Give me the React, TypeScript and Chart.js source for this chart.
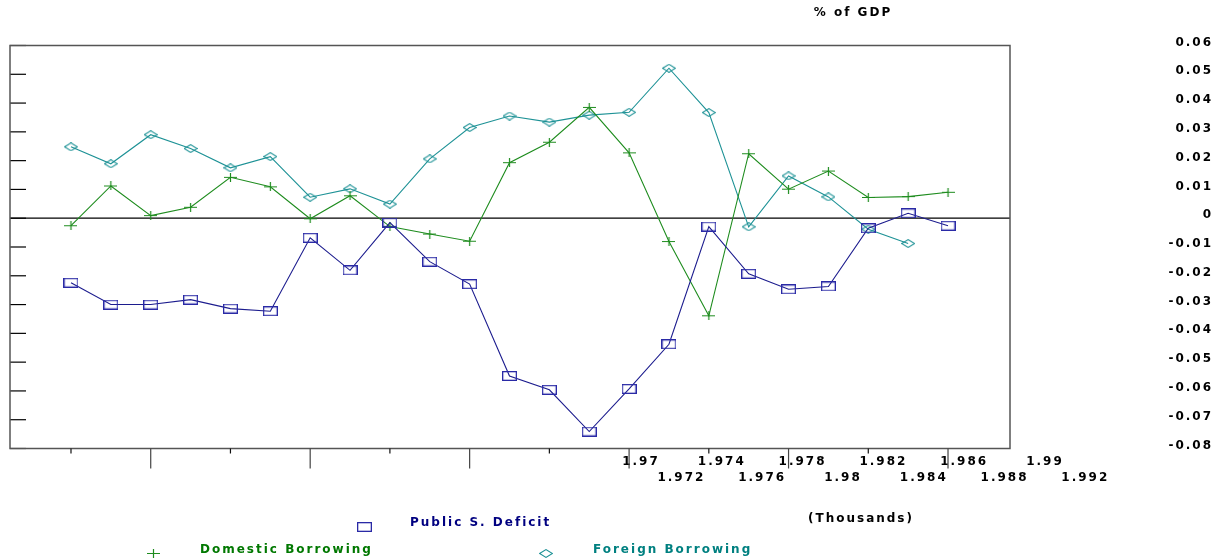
import React, { useEffect, useRef } from 'react';
import { Chart, registerables } from 'chart.js';

Chart.register(...registerables);

// ---- data ----
const years = [1963, 1964, 1965, 1966, 1967, 1968, 1969, 1970, 1971, 1972, 1973, 1974,
  1975, 1976, 1977, 1978, 1979, 1980, 1981, 1982, 1983, 1984, 1985];

const publicDeficit = [-0.0224, -0.0300, -0.0300, -0.0283, -0.0314, -0.0323, -0.0068, -0.0181,
  -0.0015, -0.0151, -0.0229, -0.0548, -0.0596, -0.0741, -0.0593, -0.0438, -0.0029, -0.0193,
  -0.0247, -0.0237, -0.0035, 0.0017, -0.0026];

const domesticBorrowing = [-0.0026, 0.0112, 0.0009, 0.0038, 0.0142, 0.0109, -0.0002, 0.0078,
  -0.0029, -0.0055, -0.0080, 0.0193, 0.0264, 0.0385, 0.0227, -0.0081, -0.0339, 0.0224,
  0.0101, 0.0164, 0.0072, 0.0075, 0.0090];

const foreignBorrowing = [0.0248, 0.0189, 0.0290, 0.0242, 0.0175, 0.0214, 0.0073, 0.0102,
  0.0049, 0.0206, 0.0315, 0.0355, 0.0334, 0.0358, 0.0368, 0.0521, 0.0367, -0.0030,
  0.0147, 0.0074, -0.0038, -0.0088];

const seriesLabels = ['Public S. Deficit', 'Domestic Borrowing', 'Foreign Borrowing'];

const xTickYears = [1963, 1965, 1967, 1969, 1971, 1973, 1975, 1977, 1979, 1981, 1983, 1985];
const xTickLabels = ['1.97', '1.972', '1.974', '1.976', '1.978', '1.98', '1.982', '1.984',
  '1.986', '1.988', '1.99', '1.992'];

const yTitle = '% of GDP';
const xTitle = '(Thousands)';

// ---- styles ----
const FONT_FAMILY = '"DejaVu Sans", "Liberation Sans", sans-serif';
const FONT_SIZE = 12;
const FONT = 'bold ' + FONT_SIZE + 'px ' + FONT_FAMILY;
const LETTER_SPACING = '2px';
const NAVY = '#1c1c8e';
const GREEN = '#1e8c1e';
const TEAL = '#1e9296';
const LEGEND_COLORS = ['#000080', '#007800', '#008080'];

function makeMarker(w: number, h: number, draw: (g: CanvasRenderingContext2D) => void) {
  const c = document.createElement('canvas');
  c.width = w;
  c.height = h;
  const g = c.getContext('2d')!;
  draw(g);
  return c;
}

const decorPlugin = {
  id: 'decor',
  beforeDraw(chart: any) {
    try { (chart.ctx as any).letterSpacing = LETTER_SPACING; } catch (e) { /* ignore */ }
  },
  beforeDatasetsDraw(chart: any) {
    const { ctx, chartArea: a, scales } = chart;
    const x = scales.x;
    const y = scales.y;
    const line = (x1: number, y1: number, x2: number, y2: number) => {
      ctx.beginPath();
      ctx.moveTo(x1, y1);
      ctx.lineTo(x2, y2);
      ctx.stroke();
    };
    ctx.save();
    // zero line
    ctx.strokeStyle = '#000';
    ctx.lineWidth = 1.3;
    const y0 = y.getPixelForValue(0);
    line(a.left, y0, a.right, y0);
    // inner y ticks on the left side
    ctx.lineWidth = 1.2;
    y.ticks.forEach((t: any) => {
      const py = y.getPixelForValue(t.value);
      line(a.left, py, a.left + 16, py);
    });
    // frame
    ctx.strokeStyle = '#555';
    ctx.lineWidth = 1.5;
    ctx.strokeRect(a.left, a.top, a.right - a.left, a.bottom - a.top);
    // x tick marks (alternating short / long)
    xTickYears.forEach((yr, i) => {
      const px = x.getPixelForValue(yr);
      ctx.strokeStyle = i % 2 ? '#444' : '#111';
      ctx.lineWidth = 1.2;
      line(px, a.bottom, px, a.bottom + (i % 2 ? 20 : 5));
    });
    ctx.restore();
  },
  afterDraw(chart: any) {
    const { ctx } = chart;
    ctx.save();
    ctx.font = FONT;
    ctx.textBaseline = 'middle';
    // titles
    ctx.fillStyle = '#000';
    ctx.textAlign = 'center';
    ctx.fillText(yTitle, 853, 13);
    ctx.fillText(xTitle, 861, 519);
    // legend
    const spots = [
      { mx: 364, my: 527, tx: 410, ty: 523 },
      { mx: 153, my: 553, tx: 200, ty: 550 },
      { mx: 546, my: 553, tx: 593, ty: 550 },
    ];
    chart.data.datasets.forEach((ds: any, i: number) => {
      const s = spots[i];
      const img = ds.pointStyle as HTMLCanvasElement;
      ctx.drawImage(img, Math.round(s.mx - img.width / 2), Math.round(s.my - img.height / 2));
      ctx.fillStyle = LEGEND_COLORS[i];
      ctx.textAlign = 'left';
      ctx.fillText(ds.label, s.tx, s.ty);
    });
    ctx.restore();
  },
};

export default function App() {
  const ref = useRef<HTMLCanvasElement>(null);

  useEffect(() => {
    if (!ref.current) return;
    const rectStyle = makeMarker(15, 10, (g) => {
      g.strokeStyle = '#2a2aa6';
      g.lineWidth = 1.3;
      g.strokeRect(0.65, 0.65, 13.7, 8.7);
    });
    const crossStyle = makeMarker(13, 9, (g) => {
      g.strokeStyle = GREEN;
      g.lineWidth = 1.2;
      g.beginPath();
      g.moveTo(0, 4.5);
      g.lineTo(13, 4.5);
      g.moveTo(6.5, 0);
      g.lineTo(6.5, 9);
      g.stroke();
    });
    const diamondStyle = makeMarker(14, 9, (g) => {
      g.strokeStyle = TEAL;
      g.lineWidth = 1.1;
      g.beginPath();
      g.moveTo(0.6, 4.5);
      g.lineTo(7, 0.6);
      g.lineTo(13.4, 4.5);
      g.lineTo(7, 8.4);
      g.closePath();
      g.stroke();
    });

    const chart = new Chart(ref.current, {
      type: 'line',
      data: {
        datasets: [
          {
            label: seriesLabels[0],
            data: publicDeficit.map((v, i) => ({ x: years[i], y: v })),
            borderColor: NAVY,
            borderWidth: 1.1,
            pointStyle: rectStyle as any,
            pointRadius: 5,
            tension: 0,
          },
          {
            label: seriesLabels[1],
            data: domesticBorrowing.map((v, i) => ({ x: years[i], y: v })),
            borderColor: GREEN,
            borderWidth: 1.1,
            pointStyle: crossStyle as any,
            pointRadius: 5,
            tension: 0,
          },
          {
            label: seriesLabels[2],
            data: foreignBorrowing.map((v, i) => ({ x: years[i], y: v })),
            borderColor: TEAL,
            borderWidth: 1.1,
            pointStyle: diamondStyle as any,
            pointRadius: 5,
            tension: 0,
          },
        ],
      },
      options: {
        animation: false,
        responsive: true,
        maintainAspectRatio: false,
        devicePixelRatio: 1,
        layout: { padding: { left: 10, top: 45.5, right: 5, bottom: 61.5 } },
        plugins: { legend: { display: false }, tooltip: { enabled: false } },
        scales: {
          x: {
            type: 'linear',
            display: false,
            min: 1961.47,
            max: 1986.555,
          },
          xl: {
            type: 'linear',
            position: 'bottom',
            min: 1.93876,
            max: 1.98827,
            afterBuildTicks: (s: any) => {
              s.ticks = xTickLabels.map((l) => ({ value: parseFloat(l) }));
            },
            afterFit: (s: any) => { s.height = 50; },
            grid: { display: false, drawTicks: false },
            border: { display: false },
            ticks: {
              autoSkip: false,
              maxRotation: 0,
              minRotation: 0,
              padding: 5.5,
              color: '#000',
              font: { family: FONT_FAMILY, size: FONT_SIZE, weight: 'bold', lineHeight: '16px' },
              callback: (_v: any, i: number) => (i % 2 === 0 ? xTickLabels[i] : ['', xTickLabels[i]]),
            },
          } as any,
          y: {
            type: 'linear',
            position: 'right',
            min: -0.08,
            max: 0.06,
            afterFit: (s: any) => { s.width = 203; },
            grid: { display: false, drawTicks: false },
            border: { display: false },
            ticks: {
              stepSize: 0.01,
              crossAlign: 'far',
              padding: 0,
              labelOffset: -3,
              color: '#000',
              font: { family: FONT_FAMILY, size: FONT_SIZE, weight: 'bold' },
              callback: (v: any) => String(Number(Number(v).toFixed(2))),
            },
          },
        },
      },
      plugins: [decorPlugin],
    });
    return () => chart.destroy();
  }, []);

  return (
    <div style={{ position: 'fixed', left: 0, top: 0, width: 1218, height: 560, background: '#fff' }}>
      <canvas ref={ref} />
    </div>
  );
}
